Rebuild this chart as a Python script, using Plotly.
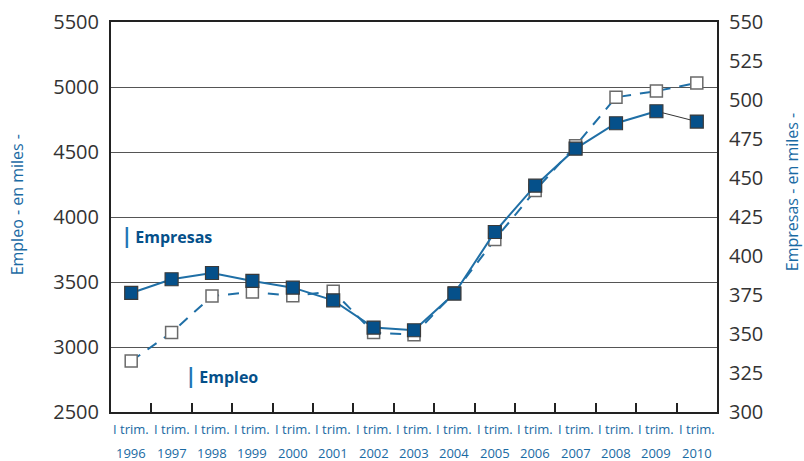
import plotly.graph_objects as go

years = ["1996", "1997", "1998", "1999", "2000", "2001", "2002", "2003",
         "2004", "2005", "2006", "2007", "2008", "2009", "2010"]
quarter_label = "I trim."

# Empleo (miles) - left axis
empleo = [2892, 3111, 3392, 3423, 3394, 3428, 3111, 3095,
          3418, 3826, 4203, 4549, 4921, 4969, 5031]
# Empresas (miles) - right axis
empresas = [376.3, 385.1, 389.1, 384.0, 379.7, 371.6, 354.1, 352.4,
            375.9, 415.4, 445.1, 468.8, 485.1, 492.8, 486.2]

left_ticks = [2500, 3000, 3500, 4000, 4500, 5000, 5500]
right_ticks = [300, 325, 350, 375, 400, 425, 450, 475, 500, 525, 550]

BLUE_LINE = "#1f6fa6"
BLUE_DARK = "#05508a"
TXT_BLUE = "#1a6aa3"
FONT = "Open Sans"

fig = go.Figure()

# Empleo: hollow squares, dashed line
fig.add_trace(go.Scatter(
    x=years, y=empleo, mode="lines+markers", name="Empleo",
    line=dict(color=BLUE_LINE, width=2, dash="11px,9px"),
    marker=dict(symbol="square", size=12, color="white",
                line=dict(color="#6a6a6a", width=1.5)),
    yaxis="y", showlegend=False))

# Empresas: last segment thin dark line
fig.add_trace(go.Scatter(
    x=years[-2:], y=empresas[-2:], mode="lines",
    line=dict(color="#333333", width=1),
    yaxis="y2", showlegend=False))

# Empresas: filled squares, solid line
fig.add_trace(go.Scatter(
    x=years[:-1], y=empresas[:-1], mode="lines",
    line=dict(color=BLUE_LINE, width=2),
    yaxis="y2", showlegend=False))
fig.add_trace(go.Scatter(
    x=years, y=empresas, mode="markers", name="Empresas",
    marker=dict(symbol="square", size=13, color=BLUE_DARK,
                line=dict(color="#3a3a3a", width=1.2)),
    yaxis="y2", showlegend=False))

annotations = []
for i, yr in enumerate(years):
    annotations.append(dict(x=i, y=-0.044, xref="x", yref="paper",
                            text=quarter_label, showarrow=False,
                            xanchor="center", yanchor="middle",
                            font=dict(family=FONT, size=13, color=TXT_BLUE)))
    annotations.append(dict(x=i, y=-0.105, xref="x", yref="paper",
                            text=yr, showarrow=False,
                            xanchor="center", yanchor="middle",
                            font=dict(family=FONT, size=13, color=TXT_BLUE)))

annotations += [
    dict(x=-0.155, y=0.53, xref="paper", yref="paper", text="Empleo - en miles -",
         textangle=-90, showarrow=False, xanchor="center", yanchor="middle",
         font=dict(family=FONT, size=16, color=TXT_BLUE)),
    dict(x=1.125, y=0.563, xref="paper", yref="paper", text="Empresas - en miles -",
         textangle=-90, showarrow=False, xanchor="center", yanchor="middle",
         font=dict(family=FONT, size=16, color=TXT_BLUE)),
    dict(x=0.014, y=0.453, xref="paper", yref="paper",
         text="<b><span style='color:#1f75b5;font-size:21px'>|</span>\u2009Empresas</b>",
         showarrow=False, xanchor="left", yanchor="middle",
         font=dict(family=FONT, size=16, color=BLUE_DARK)),
    dict(x=0.118, y=0.094, xref="paper", yref="paper",
         text="<b><span style='color:#1f75b5;font-size:21px'>|</span>\u2009Empleo</b>",
         showarrow=False, xanchor="left", yanchor="middle",
         font=dict(family=FONT, size=16, color=BLUE_DARK)),
]

fig.update_layout(
    width=804, height=461,
    margin=dict(l=111, r=87, t=22, b=49, autoexpand=False),
    paper_bgcolor="white", plot_bgcolor="white",
    font=dict(family=FONT),
    xaxis=dict(type="category", range=[-0.5, 14.5], tickson="boundaries",
               ticks="inside", ticklen=9, tickcolor="#222", tickwidth=1.5,
               showticklabels=False, showgrid=False, zeroline=False,
               showline=True, linecolor="#222", linewidth=2, mirror=True),
    yaxis=dict(range=[2500, 5500], tickvals=left_ticks, automargin=False,
               ticks="", showgrid=True, gridcolor="#555", gridwidth=1,
               zeroline=False, showline=True, linecolor="#222", linewidth=2,
               tickfont=dict(family=FONT, size=20, color="#333"),
               ticklabelstandoff=6),
    yaxis2=dict(range=[300, 550], tickvals=right_ticks, overlaying="y",
                side="right", showgrid=False, zeroline=False, ticks="",
                automargin=False,
                showline=True, linecolor="#222", linewidth=2,
                tickfont=dict(family=FONT, size=20, color="#333"),
                ticklabelstandoff=6),
    annotations=annotations,
)

fig.write_html("out.html",
               config={"displayModeBar": False},
               post_script="document.body.style.margin='0';"
                           "document.body.style.padding='0';"
                           "document.body.style.overflow='hidden';")
